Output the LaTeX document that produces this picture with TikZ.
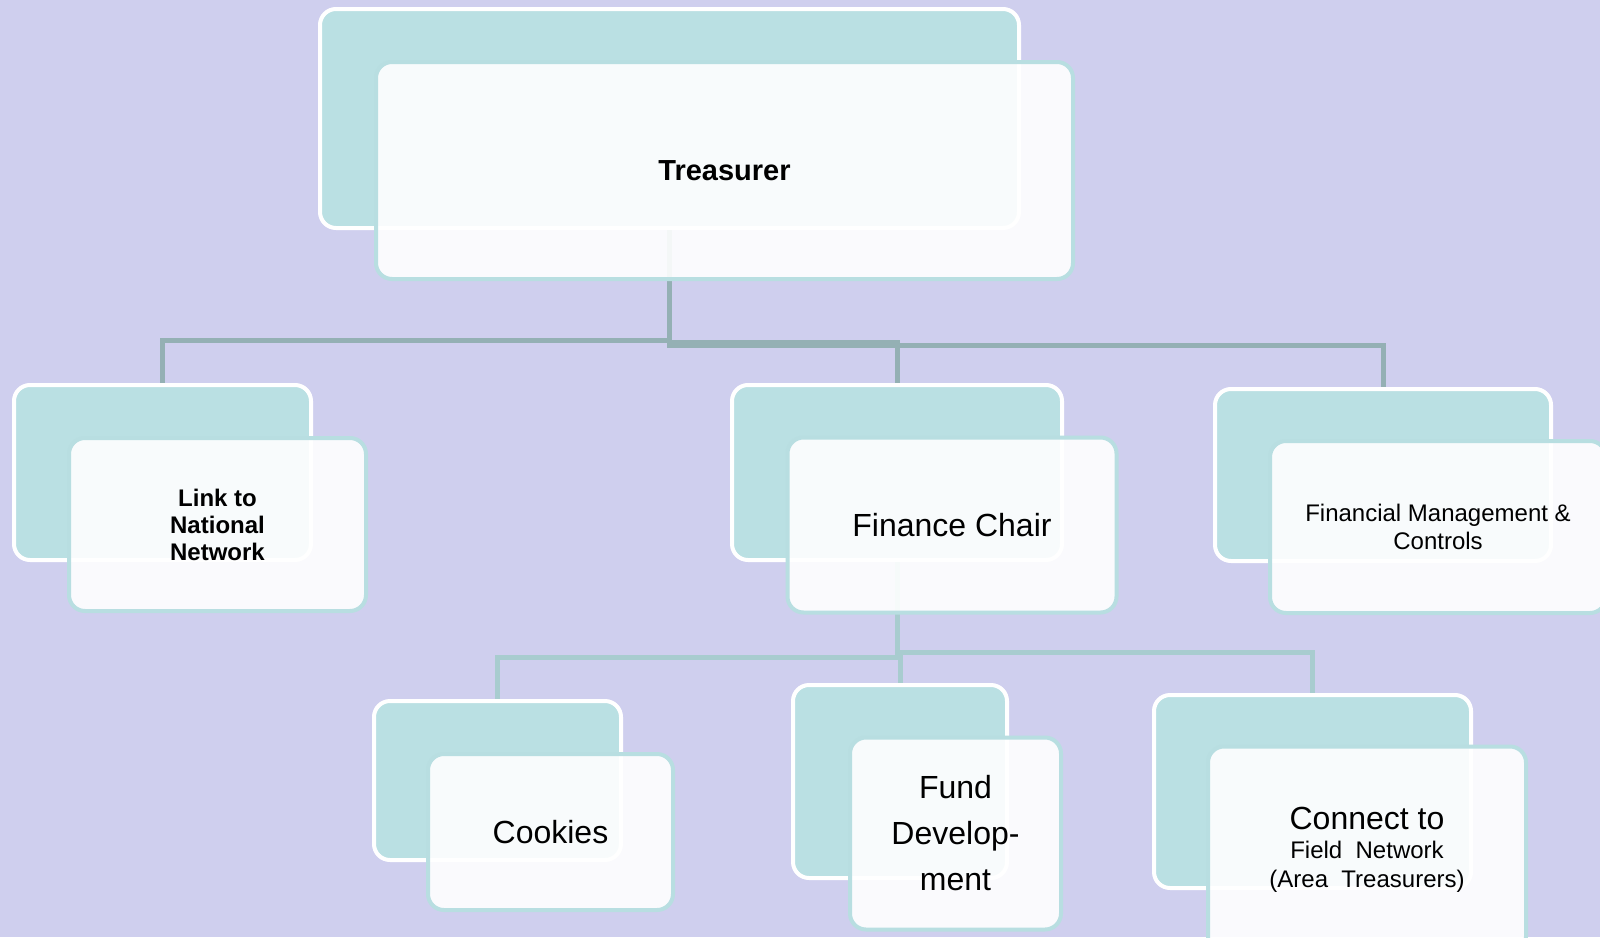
\documentclass[tikz,border=0pt]{standalone}
\usepackage{fontspec}
\setmainfont{Liberation Sans}
\usepackage{xcolor}
\usepackage{tikz}
\definecolor{bgpurple}{RGB}{207,207,238}
\definecolor{backteal}{RGB}{186,224,227}
\definecolor{frontrim}{RGB}{184,222,225}
\definecolor{linktop}{RGB}{148,176,180}
\definecolor{linklow}{RGB}{168,204,207}
\tikzset{
  backcard/.style={draw=white, line width=2pt, fill=backteal,
    rounded corners=8pt, inner sep=0pt},
  frontcard/.style={draw=frontrim, line width=2pt, fill=white,
    fill opacity=0.9, draw opacity=1, text opacity=1,
    rounded corners=8pt, inner sep=0pt, align=center},
  toplink/.style={draw=linktop, line width=2.5pt},
  lowlink/.style={draw=linklow, line width=2.5pt}
}

\begin{document}
\begin{tikzpicture}[x=0.5pt, y=-0.5pt]
	\fill[bgpurple] (0,0) rectangle (1600,937);
	\useasboundingbox (0,0) rectangle (1600,937);
	% back cards
	\node[backcard, minimum width=349.5pt, minimum height=109.5pt] (treB) at (669.5,118.5) {};
	\node[backcard, minimum width=148.5pt, minimum height=87.5pt] (linkB) at (162.5,472.5) {};
	\node[backcard, minimum width=165pt, minimum height=87.5pt] (finB) at (897,472.5) {};
	\node[backcard, minimum width=168pt, minimum height=86pt] (fmcB) at (1383,475) {};
	\node[backcard, minimum width=123.5pt, minimum height=79.5pt] (cookB) at (497.5,780.5) {};
	\node[backcard, minimum width=107pt, minimum height=96.5pt] (fundB) at (900,781.5) {};
	\node[backcard, minimum width=158.5pt, minimum height=96.5pt] (connB) at (1312.5,791.5) {};
	% connectors
	\draw[toplink] (treB.south) -- ++(0,110) -| (linkB.north);
	\draw[toplink] (treB.south) -- ++(0,112) -| (finB.north);
	\draw[toplink] (treB.south) -- ++(0,115) -| (fmcB.north);
	\draw[lowlink] (finB.south) -- ++(0,95) -| (cookB.north);
	\draw[lowlink] (finB.south) -- ++(0,90) -| (fundB.north);
	\draw[lowlink] (finB.south) -- ++(0,90) -| (connB.north);
	% front cards
	\node[frontcard, minimum width=348.5pt, minimum height=108.5pt,
		font=\fontsize{14.5}{17}\selectfont\bfseries] (tre) at ([shift={(55,52)}]treB.center) {Treasurer};
	\node[frontcard, minimum width=148.5pt, minimum height=86.5pt,
		font=\fontsize{12}{13.5}\selectfont\bfseries] (link) at ([shift={(55,52)}]linkB.center) {Link to\\National\\Network};
	\node[frontcard, minimum width=164.5pt, minimum height=87.5pt,
		font=\fontsize{16}{19}\selectfont] (fin) at ([shift={(55,52.5)}]finB.center) {Finance Chair};
	\node[frontcard, minimum width=168pt, minimum height=86pt,
		font=\fontsize{12}{14}\selectfont] (fmc) at ([shift={(55,52)}]fmcB.center) {Financial Management \&\\Controls};
	\node[frontcard, minimum width=122.5pt, minimum height=78pt,
		font=\fontsize{16}{19}\selectfont] (cook) at ([shift={(53,51.5)}]cookB.center) {Cookies};
	\node[frontcard, minimum width=105.5pt, minimum height=96pt,
		font=\fontsize{16}{23}\selectfont] (fund) at ([shift={(55.5,52)}]fundB.center) {Fund\\Develop-\\ment};
	\node[frontcard, minimum width=159pt, minimum height=103pt,
		font=\fontsize{12}{14.5}\selectfont] (conn) at ([shift={(54.5,58)}]connB.center)
		{{\fontsize{16}{19}\selectfont Connect to}\\Field\ \ Network\\(Area\ \ Treasurers)};
\end{tikzpicture}
\end{document}
